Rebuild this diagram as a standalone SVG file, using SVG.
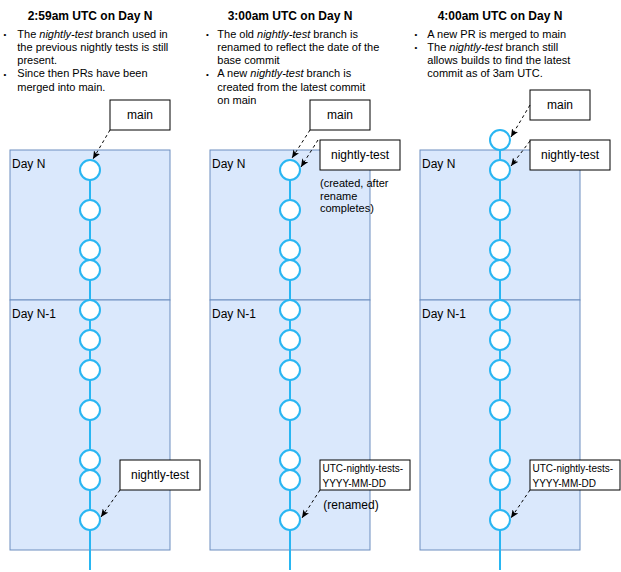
<svg xmlns="http://www.w3.org/2000/svg" width="621" height="572" viewBox="0 0 621 572">
<defs>
<style>
text{font-family:"Liberation Sans",Arial,Helvetica,sans-serif;fill:#000}
.title{font-size:12px;font-weight:bold;text-anchor:middle}
.body{font-size:11px}
.bul{font-size:8px;text-anchor:middle}
.day{font-size:12px}
.lbl{font-size:12px;text-anchor:middle}
.lbl10{font-size:10px}
.note{font-size:11px}
.period{fill:#dae8fc;stroke:#6c8ebf;stroke-width:1}
.branch{stroke:#29b6f2;stroke-width:2;fill:none}
.commit{fill:#fff;stroke:#29b6f2;stroke-width:2}
.box{fill:#fff;stroke:#000;stroke-width:1}
.ptr{stroke:#000;stroke-width:1;stroke-dasharray:3 3;fill:none}
</style>
<marker id="ah" viewBox="0 0 8 7" refX="8" refY="3.5" markerWidth="8" markerHeight="7" markerUnits="userSpaceOnUse" orient="auto">
<path d="M0,0 L8,3.5 L0,7 L2,3.5 z" fill="#000"/>
</marker>
<g id="commits">
<circle class="commit" cx="0" cy="170" r="10"/>
<circle class="commit" cx="0" cy="210" r="10"/>
<circle class="commit" cx="0" cy="250" r="10"/>
<circle class="commit" cx="0" cy="270" r="10"/>
<circle class="commit" cx="0" cy="310" r="10"/>
<circle class="commit" cx="0" cy="340" r="10"/>
<circle class="commit" cx="0" cy="370" r="10"/>
<circle class="commit" cx="0" cy="410" r="10"/>
<circle class="commit" cx="0" cy="460" r="10"/>
<circle class="commit" cx="0" cy="480" r="10"/>
<circle class="commit" cx="0" cy="520" r="10"/>
</g>
</defs>

<g id="panel1-text">
<text class="title" x="90" y="19.5">2:59am UTC on Day N</text>
<text class="bul" x="5" y="37">•</text>
<text class="body" x="17.3" y="37.5">The <tspan font-style="italic">nightly-test</tspan> branch used in</text>
<text class="body" x="17.3" y="50.8">the previous nightly tests is still</text>
<text class="body" x="17.3" y="64">present.</text>
<text class="bul" x="5" y="77">•</text>
<text class="body" x="17.3" y="77.3">Since then PRs have been</text>
<text class="body" x="17.3" y="90.6">merged into main.</text>
</g>
<g id="panel2-text">
<text class="title" x="290" y="19.5">3:00am UTC on Day N</text>
<text class="bul" x="207.5" y="37">•</text>
<text class="body" x="217.3" y="37.5">The old <tspan font-style="italic">nightly-test</tspan> branch is</text>
<text class="body" x="217.3" y="50.8">renamed to reflect the date of the</text>
<text class="body" x="217.3" y="64">base commit</text>
<text class="bul" x="207.5" y="77">•</text>
<text class="body" x="217.3" y="77.3">A new <tspan font-style="italic">nightly-test</tspan> branch is</text>
<text class="body" x="217.3" y="90.6">created from the latest commit</text>
<text class="body" x="217.3" y="104">on main</text>
</g>
<g id="panel3-text">
<text class="title" x="500" y="19.5">4:00am UTC on Day N</text>
<text class="bul" x="416" y="37">•</text>
<text class="body" x="427.3" y="37.5">A new PR is merged to main</text>
<text class="bul" x="416" y="50.3">•</text>
<text class="body" x="427.3" y="50.8">The <tspan font-style="italic">nightly-test</tspan> branch still</text>
<text class="body" x="427.3" y="64">allows builds to find the latest</text>
<text class="body" x="427.3" y="77.3">commit as of 3am UTC.</text>
</g>

<g id="periods">
<g id="p1-dayN"><rect class="period" x="10" y="150" width="160" height="150"/><text class="day" x="12" y="168">Day N</text></g>
<g id="p1-dayN1"><rect class="period" x="10" y="300" width="160" height="250"/><text class="day" x="12" y="318">Day N-1</text></g>
<g id="p2-dayN"><rect class="period" x="210" y="150" width="160" height="150"/><text class="day" x="212" y="168">Day N</text></g>
<g id="p2-dayN1"><rect class="period" x="210" y="300" width="160" height="250"/><text class="day" x="212" y="318">Day N-1</text></g>
<g id="p3-dayN"><rect class="period" x="420" y="150" width="160" height="150"/><text class="day" x="422" y="168">Day N</text></g>
<g id="p3-dayN1"><rect class="period" x="420" y="300" width="160" height="250"/><text class="day" x="422" y="318">Day N-1</text></g>
</g>

<g id="branches">
<line class="branch" x1="90" y1="170" x2="90" y2="570"/>
<line class="branch" x1="290" y1="170" x2="290" y2="570"/>
<line class="branch" x1="500" y1="140" x2="500" y2="570"/>
</g>

<g id="p1-commits"><use href="#commits" x="90"/></g>
<g id="p2-commits"><use href="#commits" x="290"/></g>
<g id="p3-commits"><use href="#commits" x="500"/><circle class="commit" cx="500" cy="140" r="10"/></g>

<g id="p1-main"><rect class="box" x="110" y="100" width="60" height="30"/><text class="lbl" x="140" y="119">main</text></g>
<g id="p1-nightly"><rect class="box" x="120" y="460" width="80" height="30"/><text class="lbl" x="160" y="479">nightly-test</text></g>
<g id="p2-main"><rect class="box" x="310" y="100" width="60" height="30"/><text class="lbl" x="340" y="119">main</text></g>
<g id="p2-nightly"><rect class="box" x="320" y="140" width="80" height="30"/><text class="lbl" x="360" y="159">nightly-test</text></g>
<g id="p2-created-note">
<text class="note" x="320" y="186.5">(created, after</text>
<text class="note" x="320" y="199.5">rename</text>
<text class="note" x="320" y="212">completes)</text>
</g>
<g id="p2-utc"><rect class="box" x="320" y="460" width="90" height="30"/><text class="lbl10" x="322.5" y="471.5">UTC-nightly-tests-</text><text class="lbl10" x="322.5" y="486.5">YYYY-MM-DD</text></g>
<g id="p2-renamed-note"><text class="day" x="323.3" y="509">(renamed)</text></g>
<g id="p3-main"><rect class="box" x="530" y="90" width="60" height="30"/><text class="lbl" x="560" y="109">main</text></g>
<g id="p3-nightly"><rect class="box" x="530" y="140" width="80" height="30"/><text class="lbl" x="570" y="159">nightly-test</text></g>
<g id="p3-utc"><rect class="box" x="530" y="460" width="90" height="30"/><text class="lbl10" x="532.5" y="471.5">UTC-nightly-tests-</text><text class="lbl10" x="532.5" y="486.5">YYYY-MM-DD</text></g>

<g id="connectors">
<line class="ptr" x1="110" y1="130" x2="93" y2="159" marker-end="url(#ah)"/>
<line class="ptr" x1="120" y1="490" x2="101" y2="517" marker-end="url(#ah)"/>
<line class="ptr" x1="310" y1="130" x2="292" y2="158" marker-end="url(#ah)"/>
<line class="ptr" x1="318" y1="140" x2="301" y2="167" marker-end="url(#ah)"/>
<line class="ptr" x1="320" y1="490" x2="302" y2="518" marker-end="url(#ah)"/>
<line class="ptr" x1="530" y1="105" x2="511" y2="137" marker-end="url(#ah)"/>
<line class="ptr" x1="530" y1="141" x2="511" y2="166" marker-end="url(#ah)"/>
<line class="ptr" x1="530" y1="490" x2="511" y2="518" marker-end="url(#ah)"/>
</g>
</svg>
